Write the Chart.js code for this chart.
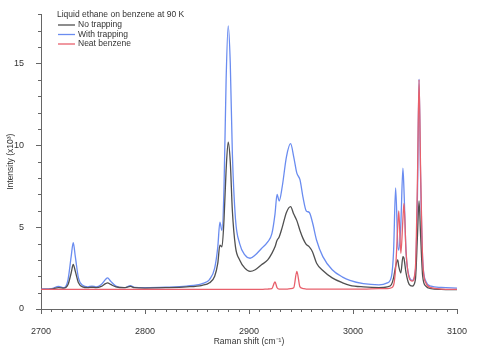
<!DOCTYPE html>
<html>
<head>
<meta charset="utf-8">
<script src="https://cdn.jsdelivr.net/npm/chart.js@4"></script>
<style>
  body { margin: 0; background: #fff; }
  #wrap { width: 484px; height: 352px; }
</style>
</head>
<body>
<div id="wrap"><canvas id="myChart"></canvas></div>
<script>
// Raman shift positions (cm-1)
const shifts = [
  2700, 2710, 2717, 2722, 2726, 2729, 2731, 2733, 2736, 2740,
  2745, 2749, 2753, 2758, 2762, 2764, 2767, 2772, 2780, 2786, 2790,
  2800, 2820, 2840, 2855, 2862, 2867, 2870, 2872, 2874,
  2876, 2878, 2880, 2882, 2884, 2887, 2891, 2896,
  2901, 2906, 2912, 2918, 2922, 2925, 2927, 2929, 2932, 2936,
  2940, 2943, 2946, 2949, 2952, 2955, 2958, 2961, 2965, 2971,
  2980, 2990, 2997, 3010, 3025, 3033, 3037, 3039,
  3041, 3043, 3044, 3046, 3048, 3049, 3051, 3054, 3057, 3060,
  3062, 3063.5, 3065, 3067, 3070, 3075, 3085, 3100
];

// intensities (x10^3)
const noTrapping = [
  1.2, 1.22, 1.3, 1.28, 1.5, 2.2, 2.72, 2.3, 1.6, 1.35,
  1.3, 1.33, 1.3, 1.38, 1.55, 1.6, 1.5, 1.35, 1.3, 1.38, 1.3,
  1.28, 1.3, 1.35, 1.45, 1.6, 2.0, 2.8, 3.9, 3.8,
  5.5, 8.5, 10.2, 9.0, 6.0, 3.8, 3.0, 2.5,
  2.3, 2.4, 2.7, 3.0, 3.4, 3.8, 4.2, 4.4, 5.0, 5.9,
  6.25, 5.8, 5.4, 4.8, 4.3, 3.95, 3.8, 3.5, 2.8, 2.35,
  1.9, 1.6, 1.45, 1.35, 1.3, 1.35, 1.5, 1.9,
  2.6, 3.0, 2.6, 2.2, 3.2, 3.1, 2.2, 1.5, 1.4, 1.8,
  4.5, 6.6, 4.5, 2.0, 1.4, 1.25, 1.2, 1.18
];

const withTrapping = [
  1.22, 1.25, 1.38, 1.3, 1.8, 3.2, 4.05, 3.2, 1.9, 1.45,
  1.35, 1.4, 1.35, 1.5, 1.8, 1.9, 1.7, 1.4, 1.3, 1.42, 1.32,
  1.3, 1.33, 1.4, 1.55, 1.8, 2.5, 3.8, 5.3, 4.8,
  7.5, 14.0, 17.3, 15.0, 9.5, 5.5, 4.0, 3.3,
  3.1, 3.3, 3.7, 4.1, 4.6, 5.8, 7.0, 6.6, 7.5, 9.3,
  10.1, 9.3, 8.3, 7.9, 6.8, 6.0, 5.9, 5.3, 4.2, 3.2,
  2.4, 1.95, 1.75, 1.55, 1.48, 1.6, 2.0, 3.5,
  7.4, 4.0, 3.6, 5.2, 8.6, 7.3, 3.5, 2.0, 1.75, 2.3,
  7.0, 14.05, 8.0, 3.0, 1.7, 1.4, 1.32, 1.28
];

const neatBenzene = [
  1.2, 1.2, 1.2, 1.2, 1.2, 1.2, 1.2, 1.2, 1.2, 1.2,
  1.2, 1.2, 1.2, 1.2, 1.2, 1.2, 1.2, 1.2, 1.2, 1.2, 1.2,
  1.2, 1.2, 1.2, 1.2, 1.2, 1.2, 1.2, 1.2, 1.2,
  1.2, 1.2, 1.2, 1.2, 1.2, 1.2, 1.2, 1.2,
  1.2, 1.2, 1.2, 1.22, 1.25, 1.65, 1.3, 1.22, 1.22, 1.22,
  1.25, 1.3, 2.3, 1.35, 1.25, 1.22, 1.22, 1.22, 1.22, 1.22,
  1.22, 1.22, 1.22, 1.22, 1.25, 1.25, 1.3, 1.45,
  2.5, 5.0, 6.0, 3.4, 5.5, 6.45, 3.5, 1.9, 1.7, 2.5,
  8.0, 14.0, 8.5, 3.0, 1.6, 1.3, 1.22, 1.2
];

const xTickLabels = [2700, 2800, 2900, 3000, 3100];
const yTickLabels = [0, 5, 10, 15];

const legendTitle = "Liquid ethane on benzene at 90 K";
const seriesNames = ["No trapping", "With trapping", "Neat benzene"];
const seriesColors = ["#505050", "#6a8cf0", "#e8606c"];

const FONT = "'Liberation Sans', Arial, sans-serif";
const TEXT = "#333";

function toPoints(vals) {
    return shifts.map((s, i) => ({ x: s, y: vals[i] }));
}

// minor/major tick marks and the legend block
const decor = {
    id: 'decor',
    afterDraw(chart) {
        const ctx = chart.ctx;
        const x = chart.scales.x;
        const y = chart.scales.y;
        ctx.save();
        ctx.strokeStyle = "#666";
        ctx.lineWidth = 1;
        ctx.beginPath();
        for (let v = x.min; v <= x.max; v += 10) {
            const px = Math.round(x.getPixelForValue(v)) + 0.5;
            const len = v % 100 === 0 ? 5 : 3;
            ctx.moveTo(px, y.bottom);
            ctx.lineTo(px, y.bottom + len);
        }
        for (let v = y.min; v <= y.max; v += 1) {
            const py = Math.round(y.getPixelForValue(v)) + 0.5;
            const len = v % 5 === 0 ? 5 : 3;
            ctx.moveTo(x.left - len, py);
            ctx.lineTo(x.left, py);
        }
        ctx.stroke();

        // legend
        ctx.font = "8.5px " + FONT;
        ctx.fillStyle = TEXT;
        ctx.textBaseline = "middle";
        ctx.textAlign = "left";
        ctx.fillText(legendTitle, 57, 15);
        seriesNames.forEach((name, i) => {
            const ly = 25 + i * 9.5;
            ctx.strokeStyle = seriesColors[i];
            ctx.lineWidth = 1.3;
            ctx.beginPath();
            ctx.moveTo(58, ly);
            ctx.lineTo(75, ly);
            ctx.stroke();
            ctx.fillStyle = TEXT;
            ctx.fillText(name, 78, ly);
        });
        ctx.restore();
    }
};

const ctx = document.getElementById('myChart');

new Chart(ctx, {
    type: 'line',
    data: {
        datasets: [
            { label: seriesNames[0], data: toPoints(noTrapping), borderColor: seriesColors[0], order: 1 },
            { label: seriesNames[1], data: toPoints(withTrapping), borderColor: seriesColors[1], order: 2 },
            { label: seriesNames[2], data: toPoints(neatBenzene), borderColor: seriesColors[2], order: 0 }
        ]
    },
    options: {
        responsive: true,
        maintainAspectRatio: false,
        animation: false,
        layout: { padding: { top: 12, right: 27, left: 0, bottom: 0 } },
        elements: {
            point: { radius: 0 },
            line: { borderWidth: 1.3, cubicInterpolationMode: 'monotone', fill: false }
        },
        plugins: {
            legend: { display: false },
            tooltip: { enabled: false }
        },
        scales: {
            x: {
                type: 'linear',
                min: 2700,
                max: 3100,
                afterBuildTicks: (scale) => { scale.ticks = xTickLabels.map(v => ({ value: v })); },
                afterFit: (scale) => { scale.height = 43; },
                grid: { display: false },
                border: { color: "#666", width: 1 },
                ticks: {
                    color: TEXT,
                    font: { family: FONT, size: 9 },
                    padding: 9,
                    maxRotation: 0,
                    callback: (v) => String(v)
                },
                title: {
                    display: true,
                    text: "Raman shift (cm⁻¹)",
                    color: TEXT,
                    font: { family: FONT, size: 8.5 },
                    padding: { top: 0, bottom: 5 }
                }
            },
            y: {
                min: 0,
                max: 18,
                afterBuildTicks: (scale) => { scale.ticks = yTickLabels.map(v => ({ value: v })); },
                afterFit: (scale) => { scale.width = 41; },
                grid: { display: false },
                border: { color: "#666", width: 1 },
                ticks: {
                    color: TEXT,
                    font: { family: FONT, size: 9 },
                    padding: 9,
                    callback: (v) => String(v)
                },
                title: {
                    display: true,
                    text: "Intensity (x10³)",
                    color: TEXT,
                    font: { family: FONT, size: 8.5 },
                    padding: { top: 6, bottom: 0 }
                }
            }
        }
    },
    plugins: [decor]
});
</script>
</body>
</html>
